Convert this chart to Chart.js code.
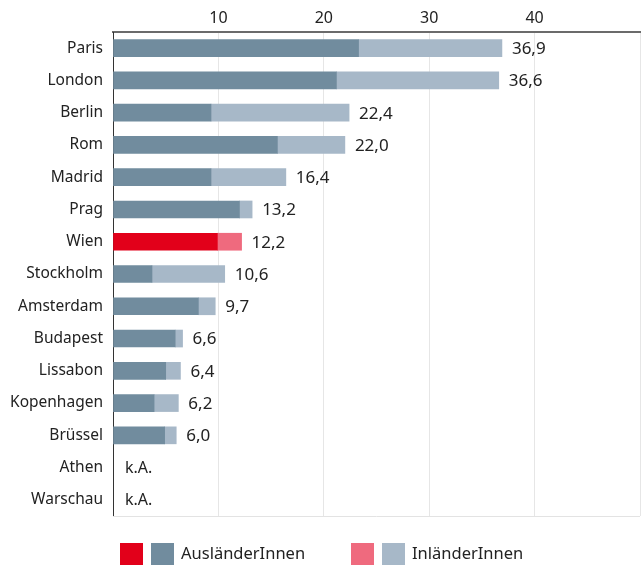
<!DOCTYPE html>
<html>
<head>
<meta charset="utf-8">
<script src="https://cdn.jsdelivr.net/npm/chart.js@4/dist/chart.umd.min.js"></script>
<style>
  html, body { margin: 0; padding: 0; background: #fff; }
  #wrap { width: 641px; height: 565px; }
</style>
</head>
<body>
<div id="wrap"><canvas id="grafico" width="641" height="565"></canvas></div>
<script>
// Städte (von oben nach unten)
const staedte = ['Paris', 'London', 'Berlin', 'Rom', 'Madrid', 'Prag', 'Wien', 'Stockholm',
  'Amsterdam', 'Budapest', 'Lissabon', 'Kopenhagen', 'Brüssel', 'Athen', 'Warschau'];
// Gesamtwerte (Label am Balkenende), null = k.A.
const gesamt = [36.9, 36.6, 22.4, 22.0, 16.4, 13.2, 12.2, 10.6, 9.7, 6.6, 6.4, 6.2, 6.0, null, null];
// Anteil AusländerInnen (dunkler Teil, aus dem Bild geschätzt)
const auslaender = [23.3, 21.2, 9.3, 15.6, 9.3, 12.0, 9.9, 3.7, 8.1, 5.9, 5.0, 3.9, 4.9, null, null];
// InländerInnen = Rest
const inlaender = gesamt.map((g, i) => g === null ? null : +(g - auslaender[i]).toFixed(1));
const xTicks = [10, 20, 30, 40];

const FONT = '"Noto Sans", "DejaVu Sans", sans-serif';
const dunkel = '#718c9e', hell = '#a7b8c8';
const rot = '#e2001a', rosa = '#ef6a7e';
const hervor = 'Wien';

const farben = (normal, wien) => staedte.map(s => s === hervor ? wien : normal);

// Werte-Labels + untere Linie
const labelPlugin = {
  id: 'labels',
  afterDatasetsDraw(chart) {
    const { ctx, chartArea, scales } = chart;
    const x = scales.x, y = scales.y;
    ctx.save();
    ctx.fillStyle = '#222';
    ctx.textBaseline = 'middle';
    ctx.textAlign = 'left';
    staedte.forEach((s, i) => {
      const yy = y.getPixelForValue(i);
      if (gesamt[i] === null) {
        ctx.font = '16px ' + FONT;
        ctx.fillText('k.A.', x.getPixelForValue(0) + 12, yy + 1);
      } else {
        ctx.font = '17px ' + FONT;
        ctx.fillText(gesamt[i].toFixed(1).replace('.', ','), x.getPixelForValue(gesamt[i]) + 10, yy + 1);
      }
    });
    // untere Begrenzung
    ctx.strokeStyle = '#e3e3e3';
    ctx.lineWidth = 1;
    ctx.beginPath();
    ctx.moveTo(chartArea.left, Math.round(chartArea.bottom) + 0.5);
    ctx.lineTo(chartArea.right, Math.round(chartArea.bottom) + 0.5);
    ctx.stroke();
    ctx.restore();
  }
};

// Legende mit je zwei Kästchen
const legendPlugin = {
  id: 'doppelLegende',
  afterDraw(chart) {
    const ctx = chart.ctx;
    const items = [
      { x: 120, farben: [rot, dunkel], text: 'AusländerInnen' },
      { x: 351, farben: [rosa, hell], text: 'InländerInnen' }
    ];
    ctx.save();
    ctx.font = '16.5px ' + FONT;
    ctx.textBaseline = 'middle';
    items.forEach(it => {
      it.farben.forEach((f, k) => {
        ctx.fillStyle = f;
        ctx.fillRect(it.x + k * 31, 543, 23, 22);
      });
      ctx.fillStyle = '#222';
      ctx.fillText(it.text, it.x + 61, 554);
    });
    ctx.restore();
  }
};

new Chart(document.getElementById('grafico'), {
  type: 'bar',
  data: {
    labels: staedte,
    datasets: [
      {
        label: 'AusländerInnen',
        data: auslaender,
        backgroundColor: farben(dunkel, rot),
        barThickness: 17
      },
      {
        label: 'InländerInnen',
        data: inlaender,
        backgroundColor: farben(hell, rosa),
        barThickness: 17
      }
    ]
  },
  options: {
    indexAxis: 'y',
    responsive: false,
    animation: false,
    layout: { padding: { top: 0, right: 1, bottom: 49, left: 0 } },
    plugins: {
      legend: { display: false },
      tooltip: { enabled: false }
    },
    scales: {
      x: {
        position: 'top',
        stacked: true,
        min: 0,
        max: 50,
        afterBuildTicks: ax => { ax.ticks = [0, ...xTicks, 50].map(v => ({ value: v })); },
        afterFit: ax => { ax.height = 32; ax.paddingLeft = 0; ax.paddingRight = 0; },
        ticks: {
          color: '#222',
          font: { family: FONT, size: 16 },
          padding: 4,
          maxRotation: 0,
          callback: v => xTicks.includes(v) ? String(v) : ''
        },
        grid: {
          color: ctx => ctx.tick && ctx.tick.value === 0 ? 'rgba(0,0,0,0)' : '#e6e6e6',
          drawTicks: false
        },
        border: { display: true, color: '#6b6b6b', width: 2 }
      },
      y: {
        stacked: true,
        afterFit: ax => { ax.width = 113; ax.paddingTop = 0; ax.paddingBottom = 0; },
        ticks: {
          color: '#222',
          font: { family: FONT, size: 15.5 },
          padding: 10
        },
        grid: { display: false, drawTicks: false },
        border: { display: true, color: '#333', width: 1 }
      }
    }
  },
  plugins: [labelPlugin, legendPlugin]
});
</script>
</body>
</html>
